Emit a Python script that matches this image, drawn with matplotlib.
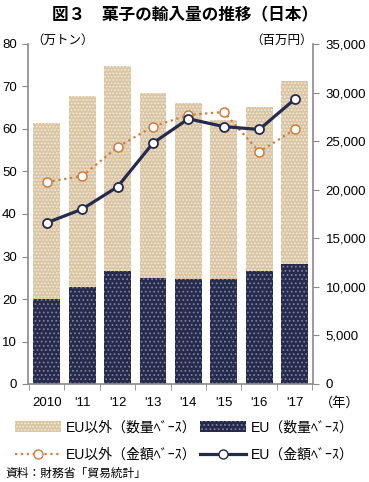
import numpy as np
import matplotlib.pyplot as plt
from matplotlib.patches import Patch
from matplotlib.lines import Line2D
from matplotlib.ticker import FuncFormatter

plt.rcParams['font.family'] = ['Liberation Sans', 'Noto Sans CJK JP']
plt.rcParams['font.size'] = 9
plt.rcParams['hatch.linewidth'] = 0.8

# データ
years = ['2010', "'11", "'12", "'13", "'14", "'15", "'16", "'17"]
eu_vol = [20.1, 22.9, 26.7, 25.0, 24.6, 24.8, 26.7, 28.3]          # 万トン
non_eu_vol = [41.4, 44.9, 48.2, 43.5, 41.6, 37.2, 38.4, 42.9]      # 万トン
eu_val = [16600, 18000, 20300, 24800, 27300, 26500, 26200, 29300]   # 百万円
non_eu_val = [20800, 21400, 24400, 26500, 27700, 28000, 23900, 26200]

c_beige = '#dac6a4'
c_navy = '#262b4e'
c_orange = '#cf7d3e'
c_spine = '#8a8a8a'

fig = plt.figure(figsize=(3.69, 4.82), dpi=100)
ax = fig.add_axes([28 / 369, 98 / 482, 285 / 369, 340 / 482])
x = np.arange(len(years))
w = 0.76

ax.bar(x, eu_vol, width=w, color=c_navy, edgecolor='#7a7f9a', linewidth=0,
       hatch='....', zorder=2)
ax.bar(x, non_eu_vol, bottom=eu_vol, width=w, color=c_beige, edgecolor='#f3eadb',
       linewidth=0, hatch='.....', zorder=2)

ax.set_xlim(-0.53, 7.52)
ax.set_ylim(0, 80)
ax.set_yticks(np.arange(0, 81, 10))
ax.set_xticks(x)
ax.set_xticklabels(years, fontsize=9.5)
ax.set_xticks(np.arange(-0.5, 8, 1), minor=True)
ax.tick_params(axis='x', which='major', length=0, pad=9)
ax.tick_params(axis='x', which='minor', length=4, color=c_spine, direction='out')
ax.tick_params(axis='y', length=4, color=c_spine, pad=4, labelsize=9.5)
for s in ['top', 'right']:
    ax.spines[s].set_visible(False)
for s in ['left', 'bottom']:
    ax.spines[s].set_color(c_spine)
    ax.spines[s].set_linewidth(1.2)

ax2 = ax.twinx()
ax2.set_ylim(0, 35000)
ax2.set_yticks(np.arange(0, 35001, 5000))
ax2.yaxis.set_major_formatter(FuncFormatter(lambda v, p: f'{int(v):,}'))
ax2.tick_params(axis='y', length=4, color=c_spine, pad=5, labelsize=9.5)
for s in ['top', 'left', 'bottom']:
    ax2.spines[s].set_visible(False)
ax2.spines['right'].set_color(c_spine)
ax2.spines['right'].set_linewidth(1.2)

ax2.plot(x, non_eu_val, color=c_orange, linestyle=':', linewidth=1.6, marker='o',
         markersize=6.5, markerfacecolor='white', markeredgecolor=c_orange,
         markeredgewidth=1.1, zorder=3)
ax2.plot(x, eu_val, color=c_navy, linestyle='-', linewidth=2.3, marker='o',
         markersize=6.5, markerfacecolor='white', markeredgecolor=c_navy,
         markeredgewidth=1.3, zorder=4)

fig.text(0.5, 1 - 15 / 482, '図３　菓子の輸入量の推移（日本）', ha='center', va='center',
         fontsize=12, fontweight='bold')
fig.text(31 / 369, 1 - 41 / 482, '（万トン）', ha='left', va='center', fontsize=9)
fig.text(313 / 369, 1 - 41 / 482, '（百万円）', ha='right', va='center', fontsize=9)
fig.text(340 / 369, 1 - 403 / 482, '（年）', ha='center', va='center', fontsize=9.5)

handles = [
    Patch(facecolor=c_beige, edgecolor='#f3eadb', hatch='.....', linewidth=0),
    Patch(facecolor=c_navy, edgecolor='#7a7f9a', hatch='....', linewidth=0),
    Line2D([], [], color=c_orange, linestyle=':', linewidth=1.6, marker='o',
           markersize=6.5, markerfacecolor='white', markeredgecolor=c_orange),
    Line2D([], [], color=c_navy, linestyle='-', linewidth=2.3, marker='o',
           markersize=6.5, markerfacecolor='white', markeredgecolor=c_navy),
]
labels = ['EU以外（数量ﾍﾞｰｽ）', 'EU（数量ﾍﾞｰｽ）', 'EU以外（金額ﾍﾞｰｽ）', 'EU（金額ﾍﾞｰｽ）']
# ncol=2 で行優先に並べる
order = [0, 2, 1, 3]
fig.legend([handles[i] for i in order], [labels[i] for i in order], ncol=2,
           loc='upper left', bbox_to_anchor=(0.025, 1 - 415 / 482), frameon=False,
           fontsize=10, handlelength=3.3, handleheight=0.8, handletextpad=0.35,
           columnspacing=0.3, labelspacing=0.95, borderaxespad=0)

fig.text(5 / 369, 1 - 474 / 482, '資料：財務省「貿易統計」', ha='left', va='center', fontsize=8.5)

fig.savefig('out.png', dpi=100)
